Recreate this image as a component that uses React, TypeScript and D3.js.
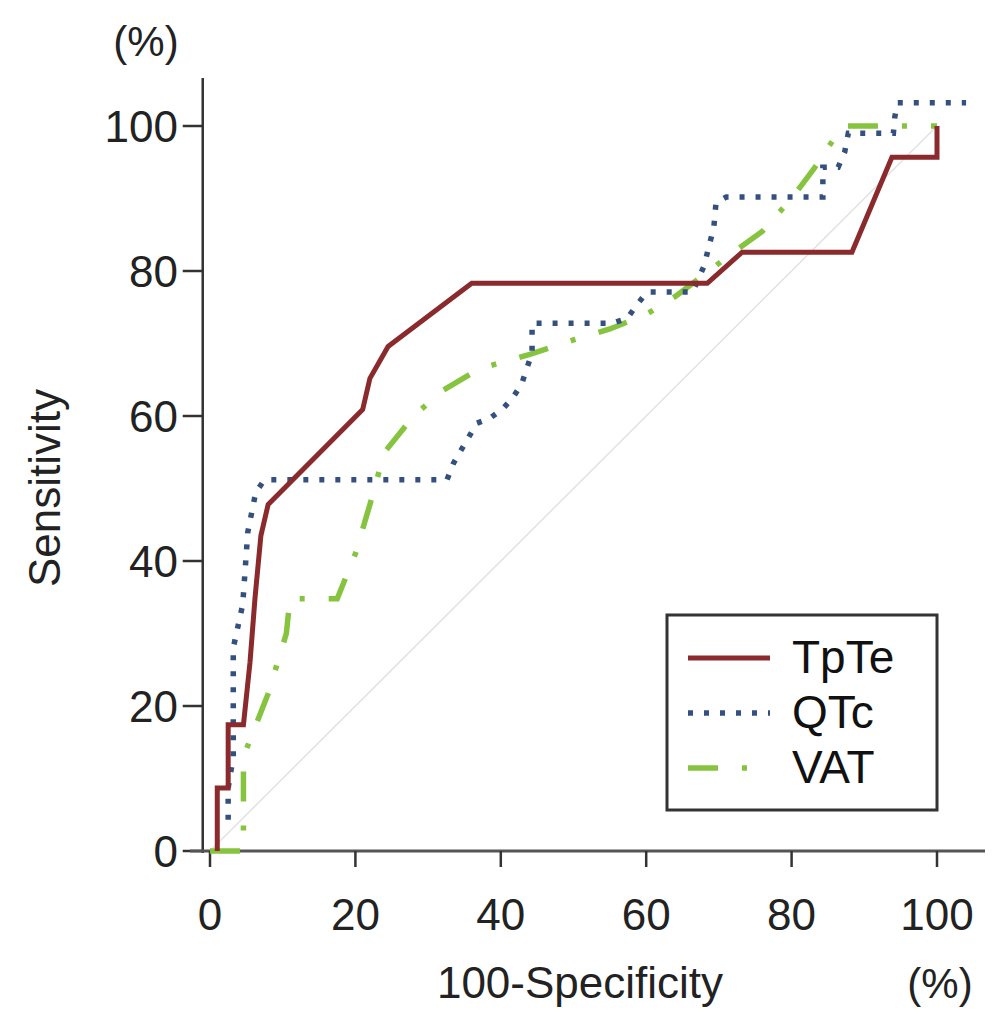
import React from 'react';
import * as d3 from 'd3';

// ROC points: 100-specificity (x) and sensitivity (y), in %
const tpteX = [1, 1, 2.5, 2.5, 4.6, 5.5, 6.2, 7, 8, 21, 22, 24.5, 36, 68.4, 73.2, 88.3, 93.8, 100, 100];
const tpteY = [0, 8.7, 8.7, 17.4, 17.4, 26, 35, 43.5, 47.8, 60.9, 65.2, 69.6, 78.3, 78.3, 82.6, 82.6, 95.7, 95.7, 100];

const qtcX = [2.5, 2.5, 3.2, 3.2, 4.5, 5.2, 6.3, 7.5, 32.6, 33.5, 36.7, 38.5, 40.3, 41.7, 42.9, 43.6, 44.3, 44.3, 55.4, 57.4, 58.7, 60.1, 66.4, 68, 68.5, 69.3, 69.6, 71, 84.3, 84.3, 86.4, 87.3, 87.8, 94, 94.2, 94.6, 104];
const qtcY = [4.3, 8.7, 13, 28, 34, 44, 49.5, 51.2, 51.2, 53.5, 59, 59.7, 61, 62.6, 64.5, 66.6, 68.7, 72.8, 72.8, 73.5, 75.3, 77.1, 77.1, 80.8, 82.9, 86, 89.4, 90.2, 90.2, 94.3, 94.3, 96.4, 99, 99, 101.3, 103.2, 103.2];

const vatX = [0, 4.6, 4.6, 8, 10.5, 11, 17.5, 20, 22, 24, 28, 32, 37, 44, 50, 55, 60, 64, 68, 72, 76, 80, 83, 87, 100];
const vatY = [0, 0, 13, 21.7, 30, 34.8, 34.8, 41, 47.8, 55, 60, 63.5, 66.5, 68.5, 70.5, 72, 74, 76.5, 79.5, 82.6, 85.5, 90, 94, 100, 100];

const xTicks = [0, 20, 40, 60, 80, 100];
const yTicks = [0, 20, 40, 60, 80, 100];

const seriesNames = ['TpTe', 'QTc', 'VAT'];

const FONT = 'Arial, "Liberation Sans", sans-serif';

export default function App() {
  const width = 994;
  const height = 1013;

  const x = d3.scaleLinear().domain([0, 100]).range([210, 937]);
  const y = d3.scaleLinear().domain([0, 100]).range([851, 126]);

  const line = d3
    .line<[number, number]>()
    .x((d) => x(d[0]))
    .y((d) => y(d[1]));

  const toPts = (xs: number[], ys: number[]) => xs.map((v, i) => [v, ys[i]] as [number, number]);

  const styles = [
    { color: '#8a2a2c', width: 5, dash: 'none', cap: 'butt' },
    { color: '#34507e', width: 5.5, dash: '5 11', cap: 'butt' },
    { color: '#86c440', width: 5.5, dash: '30 24 5 24', cap: 'butt' },
  ];
  const series = [toPts(tpteX, tpteY), toPts(qtcX, qtcY), toPts(vatX, vatY)];

  const axisX = x(-1);

  return (
    <svg
      width={width}
      height={height}
      style={{ position: 'absolute', left: 0, top: 0, background: '#fff' }}
      fontFamily={FONT}
    >
      <rect width={width} height={height} fill="#fff" />

      {/* reference diagonal */}
      <line x1={x(0)} y1={y(0)} x2={x(100)} y2={y(100)} stroke="#e2e2e2" strokeWidth={1.5} />

      {/* y axis */}
      <line x1={axisX} y1={78} x2={axisX} y2={y(0) + 2} stroke="#333" strokeWidth={2.5} />
      {yTicks.map((t) => (
        <g key={'y' + t}>
          <line x1={axisX - 20} x2={axisX} y1={y(t)} y2={y(t)} stroke="#333" strokeWidth={2.5} />
          <text x={178} y={y(t) + 16} textAnchor="end" fontSize={44} fill="#222">
            {t}
          </text>
        </g>
      ))}

      {/* x axis */}
      <line x1={190} x2={985} y1={y(0)} y2={y(0)} stroke="#555" strokeWidth={3} />
      {xTicks.map((t) => (
        <g key={'x' + t}>
          <line x1={x(t)} x2={x(t)} y1={y(0)} y2={y(0) + 16} stroke="#333" strokeWidth={2.5} />
          <text x={x(t)} y={930} textAnchor="middle" fontSize={44} fill="#222">
            {t}
          </text>
        </g>
      ))}

      <text x={146} y={56} textAnchor="middle" fontSize={42} fill="#222">
        (%)
      </text>
      <text x={940} y={998} textAnchor="middle" fontSize={42} fill="#222">
        (%)
      </text>
      <text x={580} y={998} textAnchor="middle" fontSize={44} fill="#222">
        100-Specificity
      </text>
      <text transform="translate(60,488) rotate(-90)" textAnchor="middle" fontSize={44} fill="#222">
        Sensitivity
      </text>

      {/* curves */}
      {[2, 1, 0].map((i) => (
        <path
          key={seriesNames[i]}
          d={line(series[i]) || ''}
          fill="none"
          stroke={styles[i].color}
          strokeWidth={styles[i].width}
          strokeDasharray={styles[i].dash}
          strokeLinecap={styles[i].cap as any}
          strokeLinejoin="miter"
        />
      ))}

      {/* legend */}
      <rect x={667} y={615} width={270} height={195} fill="#fff" stroke="#333" strokeWidth={3} />
      {seriesNames.map((name, i) => (
        <g key={'lg' + name}>
          <line
            x1={688}
            x2={770}
            y1={658 + i * 55}
            y2={658 + i * 55}
            stroke={styles[i].color}
            strokeWidth={styles[i].width}
            strokeDasharray={styles[i].dash}
          />
          <text x={792} y={673 + i * 55} fontSize={46} fill="#111">
            {name}
          </text>
        </g>
      ))}
    </svg>
  );
}
